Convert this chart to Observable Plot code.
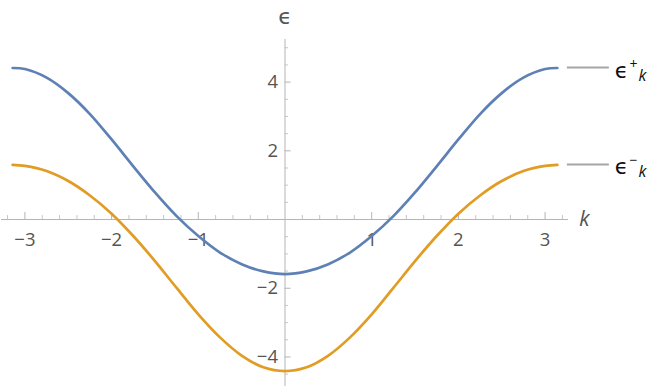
<!DOCTYPE html>
<html><head><meta charset="utf-8">
<script src="https://cdn.jsdelivr.net/npm/d3@7"></script>
<script src="https://cdn.jsdelivr.net/npm/@observablehq/plot@0.6"></script>
<style>body{margin:0;background:#fff} #chart{width:664px;height:391px}</style>
</head><body><div id="chart"></div>
<script>
const kValues  = [-3.1416, -3, -2.75, -2.5, -2.25, -2, -1.75, -1.5, -1.25, -1, -0.75, -0.5, -0.25, 0,
                  0.25, 0.5, 0.75, 1, 1.25, 1.5, 1.75, 2, 2.25, 2.5, 2.75, 3, 3.1416];
const epsPlus  = [4.41, 4.38, 4.13, 3.68, 3.07, 2.33, 1.55, 0.79, 0.10, -0.48, -0.96, -1.30, -1.51, -1.59,
                  -1.51, -1.30, -0.96, -0.48, 0.10, 0.79, 1.55, 2.33, 3.07, 3.68, 4.13, 4.38, 4.41];
const epsMinus = [1.59, 1.56, 1.41, 1.12, 0.70, 0.17, -0.48, -1.21, -1.99, -2.76, -3.43, -3.96, -4.30, -4.41,
                  -4.30, -3.96, -3.43, -2.76, -1.99, -1.21, -0.48, 0.17, 0.70, 1.12, 1.41, 1.56, 1.59];
const seriesKeys = ["plus", "minus"];
const seriesSigns = ["+", "\u2212"];
const xTickLabels = [-3, -2, -1, 1, 2, 3];
const yTickLabels = [-4, -2, 2, 4];
const xMinorTicks = d3.range(-16, 17).filter(i => i % 5 !== 0).map(i => i / 5);
const yMinorTicks = d3.range(-9, 11).filter(i => i % 4 !== 0).map(i => i / 2);

const blue = "#5e81b5", orange = "#e19c24";
const axisColor = "#b4b4b4", labelColor = "#555555";
const font = "'Open Sans', 'Liberation Sans', sans-serif";
const greekFont = "'DejaVu Sans', sans-serif";

const rows = kValues.flatMap((k, i) => [
  {k, e: epsPlus[i], s: "plus"},
  {k, e: epsMinus[i], s: "minus"}
]);
const fmt = d => d < 0 ? "\u2212" + Math.abs(d) : String(d);

const chart = Plot.plot({
  width: 664, height: 391,
  marginLeft: 1, marginRight: 96, marginTop: 39, marginBottom: 5,
  x: {domain: [-3.27, 3.27], axis: null},
  y: {domain: [-4.86, 5.24], axis: null},
  color: {domain: seriesKeys, range: [blue, orange]},
  style: {fontFamily: font, background: "#fff"},
  marks: [
    Plot.ruleY([0], {stroke: axisColor, strokeWidth: 1}),
    Plot.ruleX([0], {stroke: axisColor, strokeWidth: 1}),
    Plot.ruleX(xTickLabels, {x: d => d, y1: 0, y2: 0, insetTop: -7, stroke: axisColor}),
    Plot.ruleX(xMinorTicks, {x: d => d, y1: 0, y2: 0, insetTop: -4, stroke: "#c6c6c6"}),
    Plot.ruleY(yTickLabels, {y: d => d, x1: 0, x2: 0, insetRight: -6, stroke: axisColor}),
    Plot.ruleY(yMinorTicks, {y: d => d, x1: 0, x2: 0, insetRight: -3.5, stroke: "#c6c6c6"}),
    Plot.text(xTickLabels, {x: d => d, y: 0, text: fmt, dy: 21, fontSize: 18.5, fill: labelColor, lineAnchor: "middle"}),
    Plot.text(yTickLabels, {x: 0, y: d => d, text: fmt, dx: -7, textAnchor: "end", fontSize: 18.5, fill: labelColor, lineAnchor: "middle"}),
    Plot.text(["\u03f5"], {x: 0, frameAnchor: "top", dy: -23, fontSize: 22, fontFamily: greekFont, fill: labelColor, lineAnchor: "middle"}),
    Plot.text(["k"], {y: 0, frameAnchor: "right", dx: 21, fontSize: 21, fontStyle: "italic", fill: labelColor, lineAnchor: "middle"}),
    Plot.line(rows, {x: "k", y: "e", z: "s", stroke: "s", strokeWidth: 2.7, curve: "catmull-rom"})
  ]
});
document.getElementById("chart").appendChild(chart);

// legend (positions from the plot's own scales)
const xs = chart.scale("x"), ys = chart.scale("y");
const xEnd = xs.apply(kValues[kValues.length - 1]);
const svg = d3.select(chart);
const ends = [epsPlus[epsPlus.length - 1], epsMinus[epsMinus.length - 1]];
ends.forEach((v, i) => {
  const yy = ys.apply(v);
  svg.append("line").attr("x1", xEnd + 10).attr("x2", xEnd + 52)
    .attr("y1", yy).attr("y2", yy).attr("stroke", "#a6a6a6").attr("stroke-width", 2);
  const t = svg.append("text").attr("x", xEnd + 58).attr("y", yy + 10)
    .attr("text-anchor", "start")
    .attr("font-family", font).attr("font-size", 22).attr("fill", "#111");
  t.append("tspan").attr("font-family", greekFont).text("\u03f5");
  t.append("tspan").attr("dy", -9).attr("dx", 1).attr("font-size", 14).text(seriesSigns[i]);
  t.append("tspan").attr("dy", 12).attr("dx", 1).attr("font-size", 16).attr("font-style", "italic").text("k");
});
</script></body></html>
